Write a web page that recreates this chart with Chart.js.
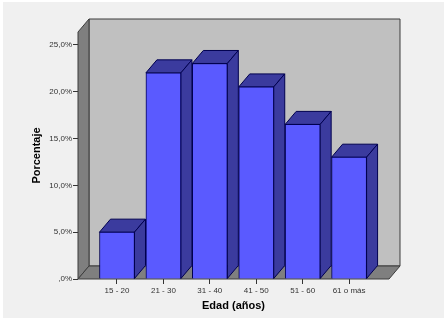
<!DOCTYPE html>
<html>
<head>
<meta charset="utf-8">
<script src="https://cdn.jsdelivr.net/npm/chart.js@4"></script>
<style>
  html, body { margin: 0; background: #fff; }
  #wrap { position: absolute; left: 3px; top: 2px; width: 441px; height: 316px; background: #f0f0f0; }
  canvas { position: absolute; left: 0; top: 0; }
</style>
</head>
<body>
<div id="wrap"></div>
<canvas id="chart" width="447" height="320"></canvas>
<script>
const categories = ["15 - 20", "21 - 30", "31 - 40", "41 - 50", "51 - 60", "61 o más"];
const percentages = [5.0, 22.0, 23.0, 20.5, 16.5, 13.0];
const yTicks = [0, 5, 10, 15, 20, 25];
const yTickLabels = [",0%", "5,0%", "10,0%", "15,0%", "20,0%", "25,0%"];

// SPSS style depth of the fake 3D box, in pixels
const DX = 11;
const DY = 13;

function poly(ctx, pts, fill, stroke) {
  ctx.beginPath();
  pts.forEach((p, i) => (i ? ctx.lineTo(p[0], p[1]) : ctx.moveTo(p[0], p[1])));
  ctx.closePath();
  ctx.fillStyle = fill;
  ctx.fill();
  if (stroke) {
    ctx.strokeStyle = stroke;
    ctx.lineWidth = 1;
    ctx.stroke();
  }
}

const box3d = {
  id: "box3d",
  beforeDatasetsDraw(chart) {
    const { ctx, chartArea: a } = chart;
    const edge = "#3c3c3c";
    ctx.save();
    // back wall, left wall, floor
    poly(ctx, [[a.left + DX, a.top - DY], [a.right + DX, a.top - DY], [a.right + DX, a.bottom - DY], [a.left + DX, a.bottom - DY]], "#c0c0c0", edge);
    poly(ctx, [[a.left, a.top], [a.left + DX, a.top - DY], [a.left + DX, a.bottom - DY], [a.left, a.bottom]], "#7f7f7f", edge);
    poly(ctx, [[a.left, a.bottom], [a.left + DX, a.bottom - DY], [a.right + DX, a.bottom - DY], [a.right, a.bottom]], "#7f7f7f", edge);
    // top and side face of every bar
    chart.getDatasetMeta(0).data.forEach((bar) => {
      const l = bar.x - bar.width / 2;
      const r = bar.x + bar.width / 2;
      poly(ctx, [[l, bar.y], [l + DX, bar.y - DY], [r + DX, bar.y - DY], [r, bar.y]], "#3b3b9e", "#000050");
      poly(ctx, [[r, bar.y], [r + DX, bar.y - DY], [r + DX, bar.base - DY], [r, bar.base]], "#3b3b9e", "#000050");
    });
    ctx.restore();
  },
};

new Chart(document.getElementById("chart"), {
  type: "bar",
  data: {
    datasets: [{
      data: percentages.map((v, i) => ({ x: i, y: v })),
      backgroundColor: "#5a5aff",
      borderColor: "#000050",
      borderWidth: 1,
      barThickness: 35,
    }],
  },
  plugins: [box3d],
  options: {
    responsive: false,
    animation: false,
    // room around the plot so the chart area lands on the box of the reference
    layout: { padding: { top: 32, right: 58, left: 0, bottom: 0 } },
    plugins: { legend: { display: false }, tooltip: { enabled: false } },
    scales: {
      x: {
        type: "linear",
        min: -0.84,
        max: 5.86,
        offset: false,
        position: "bottom",
        afterBuildTicks: (s) => { s.ticks = categories.map((c, i) => ({ value: i })); },
        afterFit: (s) => { s.height = 41; },
        grid: { display: true, drawOnChartArea: false, offset: false, drawTicks: true, tickLength: 5, tickColor: "#333" },
        border: { display: false },
        ticks: {
          autoSkip: false,
          maxRotation: 0,
          padding: 2,
          color: "#333",
          font: { family: "Liberation Sans", size: 8 },
          callback: (v) => categories[v],
        },
        title: {
          display: true,
          text: "Edad (años)",
          color: "#000",
          padding: { top: 0, bottom: 7 },
          font: { family: "Liberation Sans", size: 11, weight: "bold" },
        },
      },
      y: {
        min: 0,
        max: 26.36,
        afterBuildTicks: (s) => { s.ticks = yTicks.map((v) => ({ value: v })); },
        afterFit: (s) => { s.width = 78; },
        grid: { display: true, drawOnChartArea: false, drawTicks: true, tickLength: 5, tickColor: "#333" },
        border: { display: false },
        ticks: {
          autoSkip: false,
          padding: 1,
          color: "#333",
          font: { family: "Liberation Sans", size: 8 },
          callback: (v) => yTickLabels[yTicks.indexOf(v)],
        },
        title: {
          display: true,
          text: "Porcentaje",
          color: "#000",
          padding: { top: 30, bottom: 0 },
          font: { family: "Liberation Sans", size: 11, weight: "bold" },
        },
      },
    },
  },
});
</script>
</body>
</html>
